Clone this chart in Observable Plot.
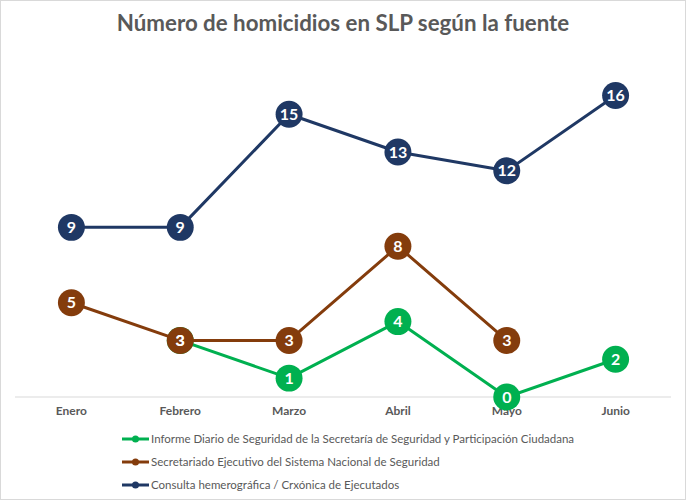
<!DOCTYPE html>
<html>
<head>
<meta charset="utf-8">
<script src="https://cdn.jsdelivr.net/npm/d3@7"></script>
<script src="https://cdn.jsdelivr.net/npm/@observablehq/plot@0.6"></script>
<style>
  html, body { margin: 0; padding: 0; background: #fff; }
  #chart { position: relative; width: 686px; height: 500px; box-sizing: border-box; border: 1px solid #d9d9d9; background: #fff; font-family: Lato, "Open Sans", sans-serif; }
  #title { position: absolute; left: 0; top: 8px; width: 100%; text-align: center; font-size: 22.3px; font-weight: bold; color: #595959; line-height: 28px; }
  #plot { position: absolute; left: 0; top: 48px; }
  #legend { position: absolute; left: 120px; top: 426px; font-size: 11.5px; color: #595959; }
  .row { height: 23px; display: flex; align-items: center; }
  .row svg { margin-right: 1px; }
</style>
</head>
<body>
<div id="chart">
  <div id="title">Número de homicidios en SLP según la fuente</div>
  <div id="plot"></div>
  <div id="legend"></div>
</div>
<script>
const months = ["Enero", "Febrero", "Marzo", "Abril", "Mayo", "Junio"];
const informe = [null, 3, 1, 4, 0, 2];
const secretariado = [5, 3, 3, 8, 3, null];
const consulta = [9, 9, 15, 13, 12, 16];
const seriesNames = [
  "Informe Diario de Seguridad de la Secretaría de Seguridad y Participación Ciudadana",
  "Secretariado Ejecutivo del Sistema Nacional de Seguridad",
  "Consulta hemerográfica / Crxónica de Ejecutados"
];
const colors = ["#00b050", "#843c0c", "#1f3864"];

const allSeries = [informe, secretariado, consulta].map((vals, i) =>
  months.map((m, j) => ({month: m, value: vals[j], series: seriesNames[i]})).filter(d => d.value != null)
);

const marks = [
  Plot.ruleY([0], {stroke: "#d9d9d9", strokeWidth: 1.2}),
  Plot.axisX({tickSize: 0, tickPadding: 10, fontSize: 12, fontWeight: "bold", fill: "#595959", label: null}),
];
allSeries.forEach((data, i) => {
  marks.push(Plot.line(data, {x: "month", y: "value", stroke: colors[i], strokeWidth: 3}));
  marks.push(Plot.dot(data, {x: "month", y: "value", r: 13.5, fill: colors[i], stroke: "none"}));
});
allSeries.forEach((data, i) => {
  marks.push(Plot.text(data, {x: "month", y: "value", text: d => String(d.value), fill: "white", fontSize: 16, fontWeight: "bold", dy: 0.5}));
});

const chart = Plot.plot({
  width: 685,
  height: 380,
  marginLeft: 14,
  marginRight: 14,
  marginTop: 46,
  marginBottom: 32,
  style: {fontFamily: "Lato, 'Open Sans', sans-serif", background: "transparent", overflow: "visible"},
  x: {type: "point", domain: months, padding: 0.5, axis: null},
  y: {domain: [0, 16], axis: null},
  marks
});
document.getElementById("plot").appendChild(chart);

const legend = document.getElementById("legend");
seriesNames.forEach((name, i) => {
  const row = document.createElement("div");
  row.className = "row";
  row.innerHTML = `<svg width="29" height="10"><line x1="1" x2="28" y1="5" y2="5" stroke="${colors[i]}" stroke-width="3"/><circle cx="14.5" cy="5" r="3.5" fill="${colors[i]}"/></svg><span>${name}</span>`;
  legend.appendChild(row);
});
</script>
</body>
</html>
